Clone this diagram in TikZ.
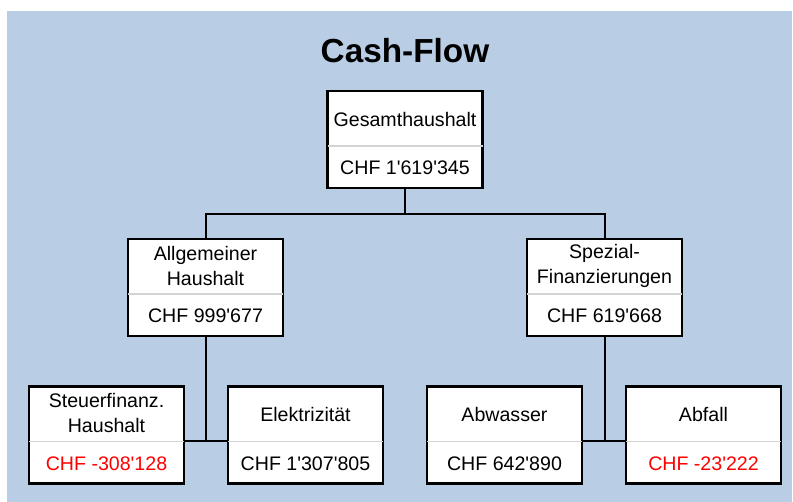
\documentclass[tikz,border=0pt]{standalone}
\usepackage{fontspec}
\setmainfont{Liberation Sans}
\usepackage{xcolor}
\usetikzlibrary{positioning, calc}
\definecolor{bgblue}{RGB}{185,205,229}
\definecolor{divgray}{RGB}{211,211,211}
\newcommand{\ap}{\textquotesingle}

\begin{document}
\begin{tikzpicture}[x=0.75pt, y=-0.75pt,
    account/.style={rectangle, draw, fill=white, line width=1.6pt, minimum width=116.25pt, minimum height=72.75pt, inner sep=0pt},
    nametext/.style={font=\fontsize{14.7}{18.75}\selectfont, align=center, inner sep=0pt},
    amount/.style={font=\fontsize{14.7}{18}\selectfont, inner sep=0pt},
    loss/.style={amount, text=red},
    divider/.style={divgray, line width=1.2pt},
    wire/.style={line width=1.5pt},
    heading/.style={font=\fontsize{25}{30}\selectfont\bfseries, inner sep=0pt}
]

% Background
\useasboundingbox (0,0) rectangle (793,502);
\fill[bgblue] (7,11) rectangle (792,502);

\node[heading] (title) at (405,51) {Cash-Flow};

% Accounts
\node[account] (ges) at (405,139.5) {};
\node[account] (allg) at (205.5,287.5) {};
\node[account] (spez) at (604.5,287.5) {};
\node[account] (steuer) at (106.5,435) {};
\node[account] (elek) at (305.5,435) {};
\node[account] (abw) at (504.5,435) {};
\node[account] (abf) at (703.5,435) {};

% Dividers between name and amount
\foreach \b in {ges,allg,spez,steuer,elek,abw,abf}
    \draw[divider] ([xshift=0.8pt,yshift=-42pt]\b.north west) -- ([xshift=-0.8pt,yshift=-42pt]\b.north east);

% Names
\node[nametext] (gesN) at ([yshift=-22pt]ges.north) {Gesamthaushalt};
\node[nametext] (allgN) at ([yshift=-21pt]allg.north) {Allgemeiner\\Haushalt};
\node[nametext] (spezN) at ([yshift=-21pt]spez.north) {Spezial-\\Finanzierungen};
\node[nametext] (steuerN) at ([yshift=-21pt]steuer.north) {Steuerfinanz.\\Haushalt};
\node[nametext] (elekN) at ([yshift=-22pt]elek.north) {Elektrizität};
\node[nametext] (abwN) at ([yshift=-22pt]abw.north) {Abwasser};
\node[nametext] (abfN) at ([yshift=-22pt]abf.north) {Abfall};

% Amounts
\node[amount] (gesV) at ([yshift=15.75pt]ges.south) {CHF 1\ap619\ap345};
\node[amount] (allgV) at ([yshift=15.75pt]allg.south) {CHF 999\ap677};
\node[amount] (spezV) at ([yshift=15.75pt]spez.south) {CHF 619\ap668};
\node[loss] (steuerV) at ([yshift=15.75pt]steuer.south) {CHF -308\ap128};
\node[amount] (elekV) at ([yshift=15.75pt]elek.south) {CHF 1\ap307\ap805};
\node[amount] (abwV) at ([yshift=15.75pt]abw.south) {CHF 642\ap890};
\node[loss] (abfV) at ([yshift=15.75pt]abf.south) {CHF -23\ap222};

% Connectors
\coordinate (allgJ) at (205.5,441);
\coordinate (spezJ) at (604.5,441);
\draw[wire] (ges.south) -- ++(0,25) -| (allg.north);
\draw[wire] (ges.south) -- ++(0,25) -| (spez.north);
\draw[wire] (allg.south) -- (allgJ);
\draw[wire] (spez.south) -- (spezJ);
\draw[wire] (steuer.east |- allgJ) -- (elek.west |- allgJ);
\draw[wire] (abw.east |- spezJ) -- (abf.west |- spezJ);

\end{tikzpicture}
\end{document}
